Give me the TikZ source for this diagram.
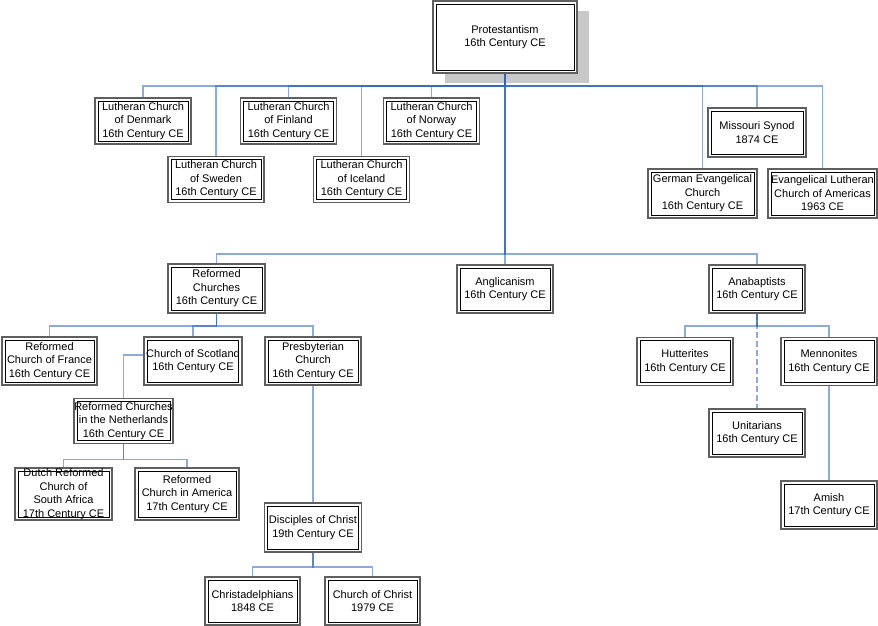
\documentclass[tikz,border=0pt]{standalone}
\usepackage{fontspec}
\setmainfont{Liberation Sans}
\usetikzlibrary{shadows}
\definecolor{boxgray}{RGB}{95,95,95}
\definecolor{linkblue}{RGB}{50,100,190}
\definecolor{shadowgray}{RGB}{200,200,200}

\begin{document}
\begin{tikzpicture}[x=1pt, y=-1pt,
  every node/.style={font=\fontsize{11}{13.5}\selectfont, align=center},
  church/.style={draw=boxgray, line width=1.8pt, fill=white, inner sep=2pt,
    minimum width=96pt, minimum height=48pt,
    path picture={\draw[black, line width=.9pt]
      ([shift={(3pt,3pt)}]path picture bounding box.south west) rectangle
      ([shift={(-3pt,-3pt)}]path picture bounding box.north east);}},
  link/.style={draw=linkblue, line width=1.5pt, opacity=.55}]
\useasboundingbox (0,0) rectangle (878,626);

\node[church, minimum width=144pt, minimum height=72pt,
  drop shadow={shadow xshift=12pt, shadow yshift=-10pt, fill=shadowgray, opacity=1}]
  (prot) at (505,37) {Protestantism\\16th Century CE};

% lutheran row
\foreach \n/\x/\y/\t in {den/143/121/Denmark, swe/216/179.5/Sweden,
  fin/288.5/121/Finland, ice/361.5/179.5/Iceland, nor/431.5/121/Norway}
  \node[church, minimum height=46pt] (\n) at (\x,\y) {Lutheran Church\\of \t\\16th Century CE};
\node[church, minimum width=98pt, minimum height=49pt] (mis) at (757,132.5) {Missouri Synod\\1874 CE};
\node[church, minimum width=109pt, minimum height=49pt] (ger) at (702.5,193.5)
  {German Evangelical\\Church\\16th Century CE};
\node[church, minimum width=109pt, minimum height=49pt] (elc) at (822.5,193.5)
  {Evangelical Lutheran\\Church of Americas\\1963 CE};

% middle row
\node[church, minimum width=97pt, minimum height=49pt] (ref) at (216.5,288.5) {Reformed\\Churches\\16th Century CE};
\node[church] (ang) at (505,289) {Anglicanism\\16th Century CE};
\node[church] (ana) at (757,289) {Anabaptists\\16th Century CE};

\node[church, minimum width=95pt] (fra) at (49.5,361) {Reformed\\Church of France\\16th Century CE};
\node[church] (sco) at (193,361) {Church of Scotland\\16th Century CE};
\node[church] (pre) at (313,361) {Presbyterian\\Church\\16th Century CE};
\node[church] (hut) at (685,361.5) {Hutterites\\16th Century CE};
\node[church] (men) at (829,361.5) {Mennonites\\16th Century CE};
\node[church] (uni) at (757,433) {Unitarians\\16th Century CE};
\node[church] (ami) at (829,505) {Amish\\17th Century CE};

\node[church, minimum width=99pt, minimum height=45pt, inner sep=0pt] (net) at (123.5,421)
  {Reformed Churches\\in the Netherlands\\16th Century CE};
\node[church, minimum width=97pt, minimum height=52pt, inner sep=0pt] (dut) at (63.5,494)
  {Dutch Reformed\\Church of\\South Africa\\17th Century CE};
\node[church, minimum width=104pt, minimum height=52pt] (rca) at (187,494)
  {Reformed\\Church in America\\17th Century CE};
\node[church, minimum width=97pt, minimum height=49pt] (dis) at (313,527.5) {Disciples of Christ\\19th Century CE};
\node[church, minimum width=95pt] (chd) at (252.5,601) {Christadelphians\\1848 CE};
\node[church, minimum width=95pt] (coc) at (372.5,601) {Church of Christ\\1979 CE};

% connectors
\foreach \c in {den,swe,fin,ice,nor,ger,mis,elc}
  \draw[link] (prot.south) -- ++(0,12) -| (\c.north);
\foreach \c in {ref,ang,ana}
  \draw[link] (prot.south) -- ++(0,180) -| (\c.north);
\foreach \c in {fra,sco,pre}
  \draw[link] (ref.south) -- ++(0,12) -| (\c.north);
\foreach \c in {hut,men}
  \draw[link] (ana.south) -- ++(0,12) -| (\c.north);
\draw[link, dash pattern=on 6pt off 3pt] (ana.south) -- (uni.north);
\draw[link] (men.south) -- (ami.north);
\draw[link] ([yshift=6pt]sco.west) -| (net.north);
\draw[link] (pre.south) -- (dis.north);
\foreach \c in {dut,rca}
  \draw[link] (net.south) -- ++(0,15) -| (\c.north);
\foreach \c in {chd,coc}
  \draw[link] (dis.south) -- ++(0,14) -| (\c.north);

\end{tikzpicture}
\end{document}
